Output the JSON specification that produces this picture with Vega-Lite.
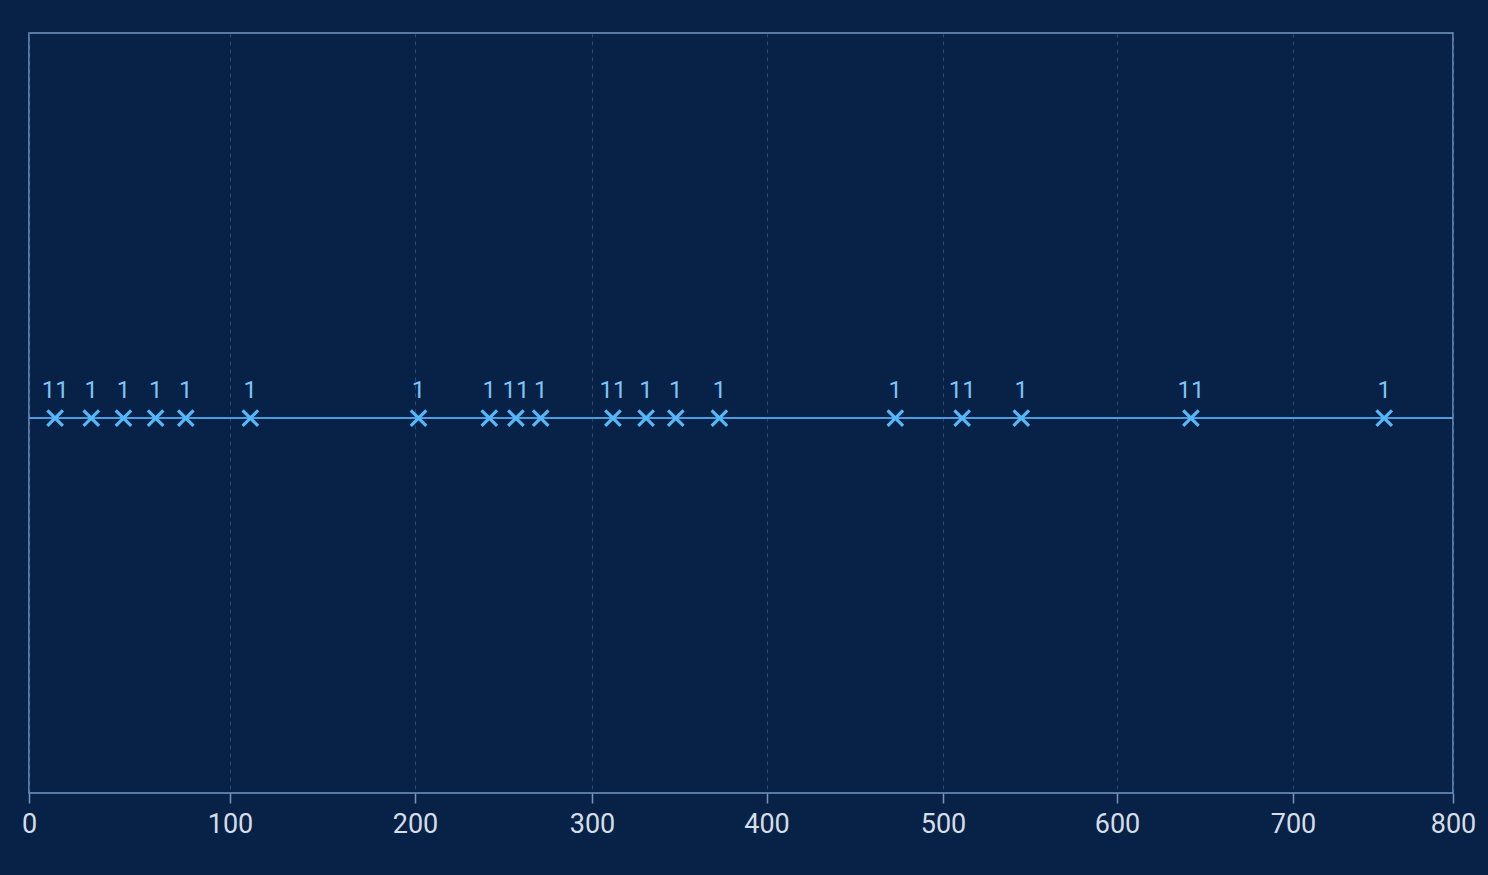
{
  "$schema": "https://vega.github.io/schema/vega-lite/v6.json",
  "autosize": {"type": "none"},
  "padding": {"left": 29, "top": 33, "right": 35, "bottom": 82},
  "width": 1424,
  "height": 760,
  "background": "#072246",
  "config": {
    "view": {"stroke": "#7396c2", "strokeWidth": 1.5, "fill": "#072246"},
    "font": "Roboto"
  },
  "data": {
    "values": [
      {"value": 13, "count": 11},
      {"value": 31, "count": 1},
      {"value": 47, "count": 1},
      {"value": 63, "count": 1},
      {"value": 78, "count": 1},
      {"value": 111, "count": 1},
      {"value": 202, "count": 1},
      {"value": 242, "count": 1},
      {"value": 257, "count": 11},
      {"value": 271, "count": 1},
      {"value": 312, "count": 11},
      {"value": 331, "count": 1},
      {"value": 348, "count": 1},
      {"value": 373, "count": 1},
      {"value": 473, "count": 1},
      {"value": 511, "count": 11},
      {"value": 545, "count": 1},
      {"value": 642, "count": 11},
      {"value": 757, "count": 1}
    ]
  },
  "layer": [
    {
      "mark": {"type": "rule", "color": "#4a9ee0", "strokeWidth": 1.2},
      "encoding": {
        "y": {"datum": 0, "type": "quantitative", "scale": {"domain": [-1, 1.027], "nice": false, "zero": false}, "axis": null}
      }
    },
    {
      "mark": {
        "type": "point",
        "shape": "M-1,-1L1,1M-1,1L1,-1",
        "size": 240,
        "filled": false,
        "stroke": "#55b8fa",
        "strokeWidth": 3.2,
        "opacity": 1
      },
      "encoding": {
        "x": {
          "field": "value",
          "type": "quantitative",
          "scale": {
            "domain": [0, 100, 200, 300, 400, 500, 600, 700, 800],
            "range": [0, 201, 386, 563, 737.5, 914, 1088, 1264, 1424],
            "nice": false,
            "zero": false
          },
          "axis": {
            "values": [0, 100, 200, 300, 400, 500, 600, 700, 800],
            "title": null,
            "domain": false,
            "grid": true,
            "gridColor": "#3a5a80",
            "gridDash": [4, 4],
            "gridWidth": 1,
            "gridOpacity": 0.7,
            "ticks": true,
            "tickColor": "#7396c2",
            "tickSize": 10,
            "tickWidth": 1.5,
            "labelPadding": 8,
            "labelFont": "Roboto",
            "labelFontSize": 27,
            "labelColor": "#d6dde6",
            "labelFlush": false,
            "labelOverlap": false
          }
        },
        "y": {"datum": 0, "type": "quantitative"}
      }
    },
    {
      "mark": {
        "type": "text",
        "font": "Roboto",
        "fontSize": 24,
        "color": "#7cc4f5",
        "baseline": "alphabetic",
        "align": "center",
        "dy": -20
      },
      "encoding": {
        "x": {"field": "value", "type": "quantitative"},
        "y": {"datum": 0, "type": "quantitative"},
        "text": {"field": "count", "type": "quantitative"}
      }
    }
  ]
}
